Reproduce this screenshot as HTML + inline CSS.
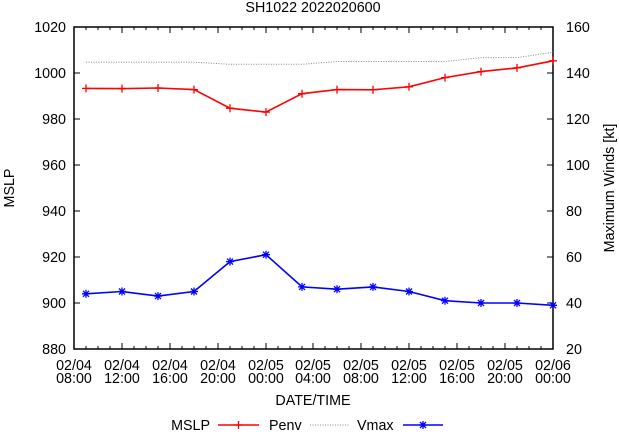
<!DOCTYPE html>
<html><head><style>
body{margin:0;background:#fff}
svg{display:block;font-family:"Liberation Sans",sans-serif;font-size:14.3px}
</style></head><body>
<svg width="619" height="432" xmlns="http://www.w3.org/2000/svg">
<text x="313" y="12" text-anchor="middle">SH1022 2022020600</text>
<g stroke="#000" stroke-width="1">
<path d="M74,349h6M74,303h6M74,257h6M74,211h6M74,165h6M74,119h6M74,73h6M74,27h6
M553,349h-6M553,303h-6M553,257h-6M553,211h-6M553,165h-6M553,119h-6M553,73h-6M553,27h-6"/>
<path d="M122,349v-6M170,349v-6M218,349v-6M266,349v-6M313,349v-6M361,349v-6M409,349v-6M457,349v-6M505,349v-6
M122,27v6M170,27v6M218,27v6M266,27v6M313,27v6M361,27v6M409,27v6M457,27v6M505,27v6
M86,349v-3M98,349v-3M110,349v-3M134,349v-3M146,349v-3M158,349v-3M182,349v-3M194,349v-3M206,349v-3
M230,349v-3M242,349v-3M254,349v-3M278,349v-3M290,349v-3M302,349v-3M325,349v-3M337,349v-3M349,349v-3
M373,349v-3M385,349v-3M397,349v-3M421,349v-3M433,349v-3M445,349v-3M469,349v-3M481,349v-3M493,349v-3
M517,349v-3M529,349v-3M541,349v-3
M86,27v3M98,27v3M110,27v3M134,27v3M146,27v3M158,27v3M182,27v3M194,27v3M206,27v3
M230,27v3M242,27v3M254,27v3M278,27v3M290,27v3M302,27v3M325,27v3M337,27v3M349,27v3
M373,27v3M385,27v3M397,27v3M421,27v3M433,27v3M445,27v3M469,27v3M481,27v3M493,27v3
M517,27v3M529,27v3M541,27v3"/>
<rect x="74" y="27" width="479" height="322" fill="none" stroke-width="1.5"/>
</g>
<g text-anchor="end">
<text x="66" y="354">880</text><text x="66" y="308">900</text><text x="66" y="262">920</text><text x="66" y="216">940</text>
<text x="66" y="170">960</text><text x="66" y="124">980</text><text x="66" y="78">1000</text><text x="66" y="32">1020</text>
</g>
<g>
<text x="566" y="354">20</text><text x="566" y="308">40</text><text x="566" y="262">60</text><text x="566" y="216">80</text>
<text x="566" y="170">100</text><text x="566" y="124">120</text><text x="566" y="78">140</text><text x="566" y="32">160</text>
</g>
<g text-anchor="middle">
<text x="74" y="370">02/04</text><text x="74" y="383">08:00</text>
<text x="122" y="370">02/04</text><text x="122" y="383">12:00</text>
<text x="170" y="370">02/04</text><text x="170" y="383">16:00</text>
<text x="218" y="370">02/04</text><text x="218" y="383">20:00</text>
<text x="266" y="370">02/05</text><text x="266" y="383">00:00</text>
<text x="313" y="370">02/05</text><text x="313" y="383">04:00</text>
<text x="361" y="370">02/05</text><text x="361" y="383">08:00</text>
<text x="409" y="370">02/05</text><text x="409" y="383">12:00</text>
<text x="457" y="370">02/05</text><text x="457" y="383">16:00</text>
<text x="505" y="370">02/05</text><text x="505" y="383">20:00</text>
<text x="553" y="370">02/06</text><text x="553" y="383">00:00</text>
<text x="313" y="405">DATE/TIME</text>
</g>
<text transform="translate(14,188) rotate(-90)" text-anchor="middle">MSLP</text>
<text transform="translate(614,188) rotate(-90)" text-anchor="middle">Maximum Winds [kt]</text>
<polyline fill="none" stroke="#888" stroke-width="1" stroke-dasharray="1,1.5" points="86,62.2 194,62.2 230,64.3 302,64.3 337,61.5 445,61.5 481,57.6 517,57.6 553,52.3"/>
<polyline fill="none" stroke="#f00" stroke-width="1.6" points="86,88.4 122,88.6 158,88 194,89.6 230,108.2 266,112.1 302,93.7 337,89.6 373,89.8 409,86.8 445,77.6 481,71.6 517,67.9 553,60.8"/>
<path stroke="#f00" stroke-width="1.3" d="M82,88.4h8M86,84.4v8M118,88.6h8M122,84.6v8M154,88h8M158,84v8M190,89.6h8M194,85.6v8M226,108.2h8M230,104.2v8M262,112.1h8M266,108.1v8M298,93.7h8M302,89.7v8M333,89.6h8M337,85.6v8M369,89.8h8M373,85.8v8M405,86.8h8M409,82.8v8M441,77.6h8M445,73.6v8M477,71.6h8M481,67.6v8M513,67.9h8M517,63.9v8M549,60.8h8M553,56.8v8"/>
<polyline fill="none" stroke="#00f" stroke-width="1.6" points="86,293.8 122,291.5 158,296.1 194,291.5 230,261.6 266,254.7 302,286.9 337,289.2 373,286.9 409,291.5 445,300.7 481,303 517,303 553,305.3"/>
<g fill="none" stroke="#00f" stroke-width="1.3">
<path d="M82,293.8h8M86,289.8v8M83,290.8l6,6M89,290.8l-6,6"/>
<path d="M118,291.5h8M122,287.5v8M119,288.5l6,6M125,288.5l-6,6"/>
<path d="M154,296.1h8M158,292.1v8M155,293.1l6,6M161,293.1l-6,6"/>
<path d="M190,291.5h8M194,287.5v8M191,288.5l6,6M197,288.5l-6,6"/>
<path d="M226,261.6h8M230,257.6v8M227,258.6l6,6M233,258.6l-6,6"/>
<path d="M262,254.7h8M266,250.7v8M263,251.7l6,6M269,251.7l-6,6"/>
<path d="M298,286.9h8M302,282.9v8M299,283.9l6,6M305,283.9l-6,6"/>
<path d="M333,289.2h8M337,285.2v8M334,286.2l6,6M340,286.2l-6,6"/>
<path d="M369,286.9h8M373,282.9v8M370,283.9l6,6M376,283.9l-6,6"/>
<path d="M405,291.5h8M409,287.5v8M406,288.5l6,6M412,288.5l-6,6"/>
<path d="M441,300.7h8M445,296.7v8M442,297.7l6,6M448,297.7l-6,6"/>
<path d="M477,303h8M481,299v8M478,300l6,6M484,300l-6,6"/>
<path d="M513,303h8M517,299v8M514,300l6,6M520,300l-6,6"/>
<path d="M549,305.3h8M553,301.3v8M550,302.3l6,6M556,302.3l-6,6"/>
</g>
<text x="210" y="430" text-anchor="end">MSLP</text>
<path d="M218,425h41" stroke="#f00" stroke-width="1.6"/><path d="M238.5,421v8M234.5,425h8" stroke="#f00" stroke-width="1.3"/>
<text x="269" y="430">Penv</text>
<path d="M310,425h40" stroke="#888" stroke-width="1" stroke-dasharray="1,1.5"/>
<text x="357" y="430">Vmax</text>
<path d="M403,425h40" stroke="#00f" stroke-width="1.6"/>
<path d="M419,425h8M423,421v8M420,422l6,6M426,422l-6,6" stroke="#00f" stroke-width="1.3" fill="none"/>
</svg>
</body></html>
